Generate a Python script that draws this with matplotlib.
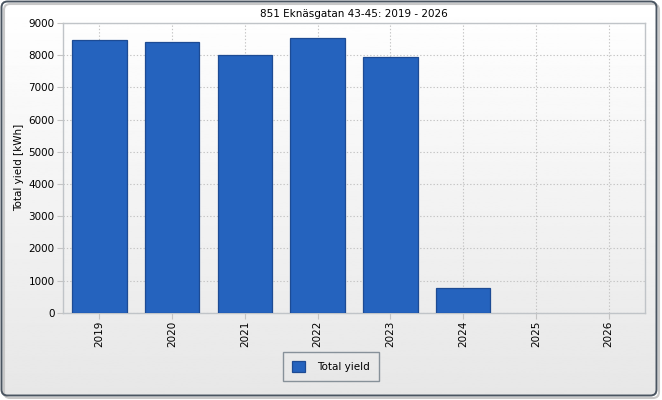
import numpy as np
from matplotlib import pyplot as plt
from matplotlib.patches import FancyBboxPatch

years = ['2019', '2020', '2021', '2022', '2023', '2024', '2025', '2026']
yields = [8460, 8420, 8020, 8520, 7930, 760, 0, 0]
yticks = [0, 1000, 2000, 3000, 4000, 5000, 6000, 7000, 8000, 9000]

plt.rcParams['font.family'] = ['DejaVu Sans']

fig = plt.figure(figsize=(6.62, 4.0), dpi=100)
fig.patch.set_facecolor('white')

# background gradient with rounded dark frame
bg = fig.add_axes([0, 0, 1, 1], zorder=-10)
bg.set_xlim(0, 662)
bg.set_ylim(400, 0)
bg.axis('off')
grad = np.linspace(1.0, 0.905, 256).reshape(-1, 1)
frame = FancyBboxPatch((1.5, 1.5), 655, 394, boxstyle='round,pad=0,rounding_size=6',
                       fc='none', ec='#4a5561', lw=1.4)
shadow = FancyBboxPatch((4, 4), 655, 394, boxstyle='round,pad=0,rounding_size=6',
                        fc='none', ec='#c8c8c8', lw=1.5)
bg.add_patch(shadow)
im = bg.imshow(grad, cmap='gray', vmin=0, vmax=1, aspect='auto',
               extent=(1.5, 656.5, 395.5, 1.5))
im.set_clip_path(frame)
bg.add_patch(frame)

ax = fig.add_axes([63 / 662, 1 - 312.7 / 400, 582 / 662, 289.7 / 400])
ax.patch.set_alpha(0)
x = np.arange(len(years))
bars = ax.bar(x, yields, width=0.75, color='#2563be', edgecolor='#1d4b94', lw=0.9,
              label='Total yield', zorder=3)
for b, v in zip(bars, yields):
    if v == 0:
        b.set_visible(False)
ax.set_xlim(-0.5, len(years) - 0.5)
ax.set_ylim(0, 9000)
ax.set_yticks(yticks)
ax.set_xticks(x)
ax.set_xticklabels(years, rotation=90)
ax.grid(True, color='#c4c4c4', linestyle=(0, (1.2, 1.8)), lw=0.8, zorder=0)
for s in ax.spines.values():
    s.set_color('#c0c4c8')
    s.set_linewidth(1.0)
ax.tick_params(axis='both', labelsize=7.5, length=4, color='#c4c4c4', pad=2)
ax.set_ylabel('Total yield [kWh]', fontsize=7.5, labelpad=3)
ax.set_title('851 Eknäsgatan 43-45: 2019 - 2026', fontsize=7.5, pad=4)

leg = ax.legend(loc='upper center', bbox_to_anchor=(331 / 582 - 63 / 582, -0.135),
                fontsize=7.5, frameon=True, fancybox=False, borderpad=0.9,
                handlelength=1.2, handleheight=1.2, handletextpad=1.2, borderaxespad=0)
leg.get_frame().set_edgecolor('#6f7b86')
leg.get_frame().set_facecolor('none')
leg.get_frame().set_linewidth(1.0)

fig.savefig('out.png', dpi=100)
